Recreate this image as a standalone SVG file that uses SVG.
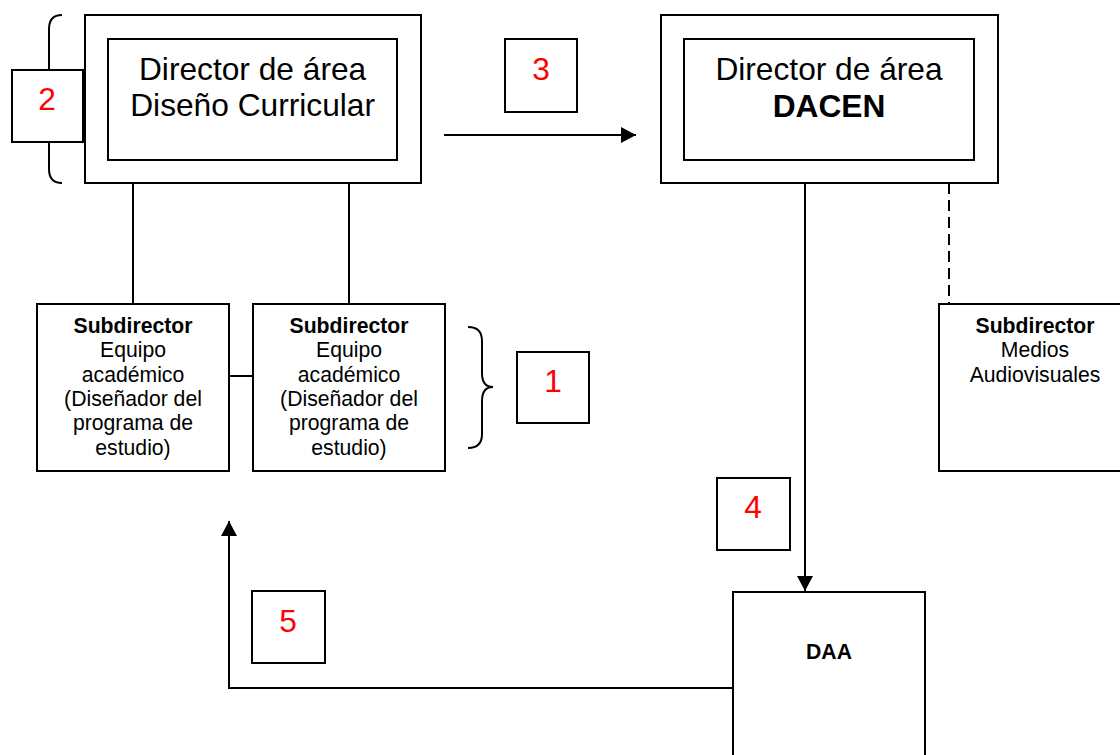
<svg xmlns="http://www.w3.org/2000/svg" width="1120" height="755" viewBox="0 0 1120 755">
<defs>
<style>
.box{fill:#fff;stroke:#000;stroke-width:2}
.ln{fill:none;stroke:#000;stroke-width:2}
.dash{fill:none;stroke:#000;stroke-width:2;stroke-dasharray:11 6}
.t{font-family:"Liberation Sans",Arial,sans-serif;fill:#000;text-anchor:middle}
.big{font-size:31.7px}
.sm{font-size:21.2px}
.b{font-weight:bold}
.num{font-family:"Liberation Sans",Arial,sans-serif;font-size:31.7px;fill:#ff0000;text-anchor:middle}
</style>
<marker id="ah" markerWidth="15" markerHeight="16" refX="15" refY="8" orient="auto" markerUnits="userSpaceOnUse">
<path d="M0,0 L15,8 L0,16 z" fill="#000"/>
</marker>
</defs>
<rect width="1120" height="755" fill="#fff"/>

<g id="connectors">
<line class="ln" x1="133" y1="183" x2="133" y2="304"/>
<line class="ln" x1="349" y1="183" x2="349" y2="304"/>
<line class="ln" x1="229" y1="376" x2="253" y2="376"/>
<line class="ln" x1="444" y1="135" x2="636" y2="135" marker-end="url(#ah)"/>
<line class="ln" x1="805" y1="183" x2="805" y2="591" marker-end="url(#ah)"/>
<line class="dash" x1="949" y1="183" x2="949" y2="304"/>
<path class="ln" d="M733,688 L229,688 L229,521" marker-end="url(#ah)"/>
<path class="ln" d="M62,15 Q49,15 49,29 L49,85 Q49,99 38,99 Q49,99 49,113 L49,169 Q49,183 62,183"/>
<path class="ln" d="M468,327 Q482,327 482,341 L482,373 Q482,387 493,387 Q482,387 482,401 L482,434 Q482,448 468,448"/>
</g>

<g id="dir-diseno">
<rect class="box" x="85" y="15" width="336" height="168"/>
<rect class="box" x="108" y="39" width="289" height="121"/>
<text class="t big" x="252.6" y="80">Director de área</text>
<text class="t big" x="252.6" y="116">Diseño Curricular</text>
</g>

<g id="dir-dacen">
<rect class="box" x="661" y="15" width="337" height="168"/>
<rect class="box" x="684" y="39" width="290" height="121"/>
<text class="t big" x="829" y="80">Director de área</text>
<text class="t big b" x="829" y="117">DACEN</text>
</g>

<g id="sub1">
<rect class="box" x="37" y="304" width="192" height="167"/>
<text class="t sm" x="133" y="333"><tspan class="b">Subdirector</tspan><tspan x="133" dy="24.3">Equipo</tspan><tspan x="133" dy="24.3">académico</tspan><tspan x="133" dy="24.3">(Diseñador del</tspan><tspan x="133" dy="24.3">programa de</tspan><tspan x="133" dy="24.3">estudio)</tspan></text>
</g>

<g id="sub2">
<rect class="box" x="253" y="304" width="192" height="167"/>
<text class="t sm" x="349" y="333"><tspan class="b">Subdirector</tspan><tspan x="349" dy="24.3">Equipo</tspan><tspan x="349" dy="24.3">académico</tspan><tspan x="349" dy="24.3">(Diseñador del</tspan><tspan x="349" dy="24.3">programa de</tspan><tspan x="349" dy="24.3">estudio)</tspan></text>
</g>

<g id="sub-medios">
<rect class="box" x="939" y="304" width="192" height="167"/>
<text class="t sm" x="1035" y="333"><tspan class="b">Subdirector</tspan><tspan x="1035" dy="24.3">Medios</tspan><tspan x="1035" dy="24.3">Audiovisuales</tspan></text>
</g>

<g id="daa">
<rect class="box" x="733" y="592" width="192" height="180"/>
<text class="t sm b" x="829" y="659">DAA</text>
</g>

<g id="step1">
<rect class="box" x="517" y="352" width="72" height="71"/>
<text class="num" x="553" y="392">1</text>
</g>
<g id="step2">
<rect class="box" x="12" y="70" width="71" height="72"/>
<text class="num" x="47" y="110">2</text>
</g>
<g id="step3">
<rect class="box" x="505" y="39" width="72" height="73"/>
<text class="num" x="541" y="80">3</text>
</g>
<g id="step4">
<rect class="box" x="717" y="478" width="73" height="72"/>
<text class="num" x="753" y="518">4</text>
</g>
<g id="step5">
<rect class="box" x="252" y="591" width="73" height="72"/>
<text class="num" x="288" y="632">5</text>
</g>
</svg>
